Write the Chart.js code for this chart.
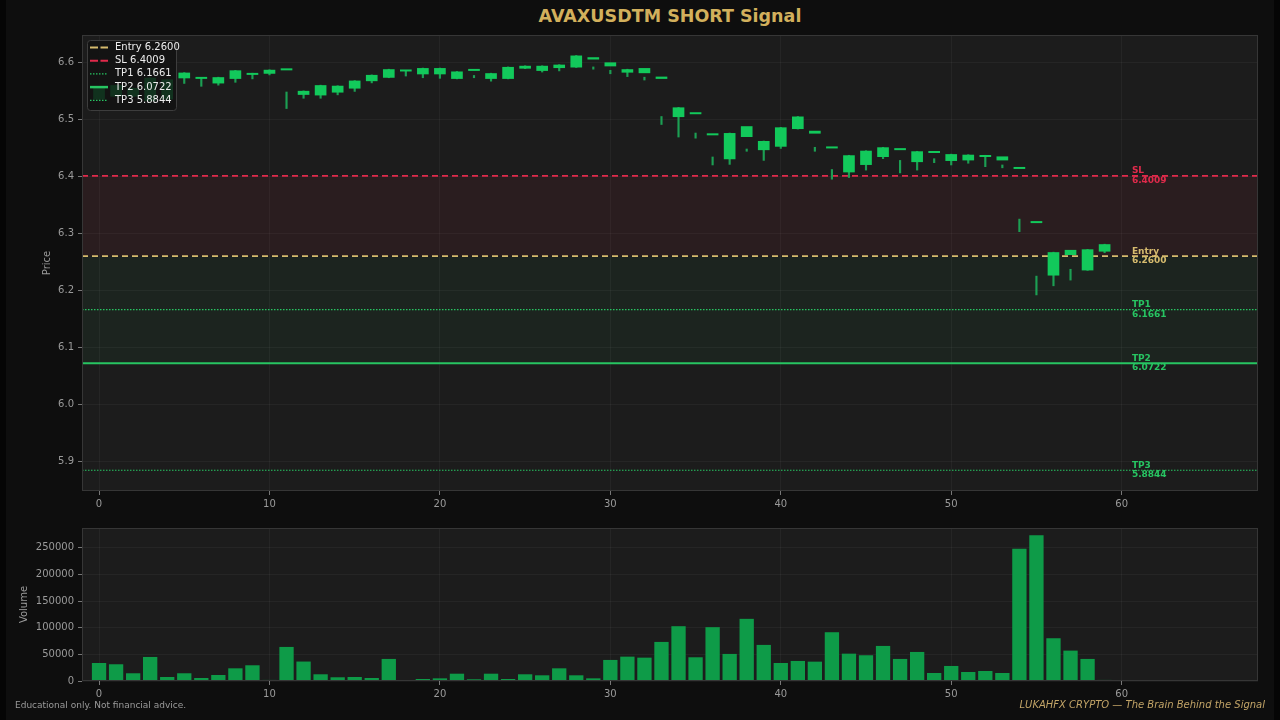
<!DOCTYPE html>
<html>
<head>
<meta charset="utf-8">
<script src="https://cdn.jsdelivr.net/npm/chart.js@4.4.1/dist/chart.umd.min.js"></script>
<style>
html,body{margin:0;padding:0;background:#0e0e0e;width:1280px;height:720px;overflow:hidden;font-family:'DejaVu Sans',sans-serif}
#wrap{position:relative;width:1280px;height:720px}
.strip{position:absolute;top:0;width:6px;height:720px;background:#050505}
#title{position:absolute;left:82px;width:1176px;top:6px;line-height:20px;text-align:center;font-weight:bold;font-size:17.5px;color:#d2b05c}
#c1{position:absolute;left:0;top:0}
#c2{position:absolute;left:0;top:512px}
#footL{position:absolute;left:15px;top:700px;line-height:11px;font-size:9px;color:#9a9a9a}
#footR{position:absolute;right:15px;top:699px;line-height:12px;font-size:10px;font-style:italic;color:#c2a467}
</style>
</head>
<body>
<div id="wrap">
  <div class="strip" style="left:0"></div>
  <div class="strip" style="right:0"></div>
  <div id="title">AVAXUSDTM SHORT Signal</div>
  <canvas id="c1" width="1280" height="512"></canvas>
  <canvas id="c2" width="1280" height="208"></canvas>
  <div id="footL">Educational only. Not financial advice.</div>
  <div id="footR">LUKAHFX CRYPTO — The Brain Behind the Signal</div>
</div>
<script>
// ---------- data ----------
const opens = [6.535,6.540,6.540,6.532,6.535,6.572,6.571,6.563,6.571,6.578,
  6.580,6.586,6.543,6.542,6.547,6.554,6.567,6.573,6.584,6.579,
  6.579,6.571,6.585,6.571,6.571,6.589,6.585,6.590,6.591,6.605,
  6.593,6.582,6.581,6.571,6.504,6.509,6.472,6.430,6.469,6.446,
  6.452,6.483,6.475,6.449,6.407,6.420,6.434,6.446,6.425,6.441,
  6.427,6.428,6.434,6.428,6.413,6.318,6.226,6.262,6.235,6.268];
const closes = [6.558,6.560,6.555,6.573,6.570,6.582,6.573,6.574,6.586,6.581,
  6.587,6.588,6.550,6.560,6.559,6.568,6.578,6.588,6.586,6.590,
  6.590,6.584,6.587,6.581,6.592,6.594,6.594,6.596,6.612,6.609,
  6.600,6.588,6.590,6.575,6.521,6.512,6.475,6.476,6.488,6.462,
  6.486,6.505,6.480,6.451,6.437,6.445,6.451,6.448,6.444,6.443,
  6.439,6.438,6.437,6.435,6.416,6.321,6.267,6.271,6.272,6.281];
const lows = [6.535,6.540,6.540,6.532,6.535,6.563,6.558,6.560,6.565,6.571,
  6.578,6.519,6.537,6.537,6.543,6.549,6.564,6.573,6.576,6.573,
  6.572,6.571,6.573,6.567,6.571,6.589,6.583,6.585,6.591,6.588,
  6.580,6.575,6.569,6.491,6.469,6.467,6.420,6.421,6.444,6.428,
  6.449,6.483,6.444,6.395,6.398,6.411,6.431,6.406,6.411,6.424,
  6.420,6.423,6.417,6.415,6.303,6.192,6.208,6.218,6.235,6.266];
const highs = [6.558,6.560,6.555,6.573,6.570,6.582,6.573,6.574,6.586,6.581,
  6.587,6.548,6.550,6.560,6.559,6.568,6.578,6.588,6.586,6.590,
  6.590,6.584,6.577,6.581,6.592,6.594,6.594,6.596,6.612,6.592,
  6.586,6.588,6.574,6.505,6.521,6.476,6.434,6.476,6.448,6.462,
  6.486,6.505,6.451,6.412,6.437,6.445,6.451,6.428,6.444,6.431,
  6.439,6.438,6.437,6.420,6.325,6.225,6.267,6.237,6.272,6.281];
const volumes = [33800,31400,14500,45100,7500,14500,5600,11300,23800,29500,
  2000,63900,36500,12600,7000,7500,5600,41400,1500,3800,
  5000,13700,3200,13700,3800,12600,10700,23800,10700,5000,
  39500,45700,43800,73300,102800,44500,101000,50800,116600,67700,
  33800,37600,36300,91500,51300,48300,65800,41400,54500,15000,
  28200,16900,18800,15000,248200,273200,80200,57000,41400,2000];
const barIndex = opens.map((_, i) => i);

const levelNames  = ['Entry', 'SL', 'TP1', 'TP2', 'TP3'];
const levelValues = [6.2600, 6.4009, 6.1661, 6.0722, 5.8844];

const xTicks = [0, 10, 20, 30, 40, 50, 60];
const priceTicks = [5.9, 6.0, 6.1, 6.2, 6.3, 6.4, 6.5, 6.6];
const volumeTicks = [0, 50000, 100000, 150000, 200000, 250000];

const X_MIN = -1, X_MAX = 68;
const PRICE_MIN = 5.848, PRICE_MAX = 6.648;
const VOL_MAX = 287000;
const LABEL_X = 60.6;

// ---------- styles ----------
const levelStyles = [
  {color:'#d6bb6e', width:1.6, dash:[6,4], lwidth:2, ldash:[8,2.5]},
  {color:'#e02a4b', width:1.6, dash:[6,4], lwidth:2, ldash:[8,2.5]},
  {color:'#27c562', width:1.2, dash:[1.5,1.5], lwidth:1.2, ldash:[1.5,1.5]},
  {color:'#27c562', width:2,   dash:[],     lwidth:2.5, ldash:[]},
  {color:'#27c562', width:1.2, dash:[1.5,1.5], lwidth:1.2, ldash:[1.5,1.5]}
];

Chart.defaults.font.family = "'DejaVu Sans', sans-serif";
Chart.defaults.font.size = 10;
Chart.defaults.color = '#9a9a9a';

const PANEL_BG = '#1c1c1c';
const GRID = 'rgba(255,255,255,0.045)';

const panelPlugin = {
  id: 'panel',
  beforeDraw(chart) {
    const a = chart.chartArea, ctx = chart.ctx;
    ctx.save();
    ctx.fillStyle = PANEL_BG;
    ctx.fillRect(a.left, a.top, a.right - a.left, a.bottom - a.top);
    ctx.restore();
  },
  afterDraw(chart) {
    const a = chart.chartArea, ctx = chart.ctx;
    ctx.save();
    ctx.strokeStyle = '#363636';
    ctx.lineWidth = 1;
    ctx.strokeRect(a.left + 0.5, a.top + 0.5, a.right - a.left - 1, a.bottom - a.top - 1);
    ctx.restore();
  }
};

const levelLabelPlugin = {
  id: 'levelLabels',
  afterDatasetsDraw(chart) {
    const ctx = chart.ctx, xs = chart.scales.x, ys = chart.scales.y;
    ctx.save();
    ctx.font = "bold 9px 'DejaVu Sans'";
    ctx.textAlign = 'left';
    ctx.textBaseline = 'middle';
    levelNames.forEach((name, i) => {
      const x = xs.getPixelForValue(LABEL_X);
      const y = ys.getPixelForValue(levelValues[i]);
      ctx.fillStyle = levelStyles[i].color;
      ctx.fillText(name, x, y - 5);
      ctx.fillText(levelValues[i].toFixed(4), x, y + 4.5);
    });
    ctx.restore();
  }
};

const legendPlugin = {
  id: 'legendBox',
  afterDraw(chart) {
    const ctx = chart.ctx, a = chart.chartArea;
    const x0 = a.left + 5, y0 = a.top + 5, w = 89, h = 70;
    ctx.save();
    ctx.beginPath();
    if (ctx.roundRect) ctx.roundRect(x0 + 0.5, y0 + 0.5, w, h, 3); else ctx.rect(x0 + 0.5, y0 + 0.5, w, h);
    ctx.fillStyle = 'rgba(17,17,17,0.82)';
    ctx.fill();
    ctx.strokeStyle = '#3d3d3d';
    ctx.lineWidth = 1;
    ctx.stroke();
    ctx.font = "10px 'DejaVu Sans'";
    ctx.textBaseline = 'middle';
    ctx.textAlign = 'left';
    levelNames.forEach((name, i) => {
      const cy = y0 + 7.5 + i * 13.2;
      const st = levelStyles[i];
      ctx.beginPath();
      ctx.setLineDash(st.ldash);
      ctx.strokeStyle = st.color;
      ctx.lineWidth = st.lwidth;
      ctx.moveTo(x0 + 3, cy);
      ctx.lineTo(x0 + 21, cy);
      ctx.stroke();
      ctx.setLineDash([]);
      ctx.fillStyle = '#ececec';
      ctx.fillText(name + ' ' + levelValues[i].toFixed(4), x0 + 28, cy);
    });
    ctx.restore();
  }
};

function levelDataset(i) {
  const st = levelStyles[i];
  return {
    type: 'line',
    label: levelNames[i],
    data: [{x: X_MIN, y: levelValues[i]}, {x: X_MAX, y: levelValues[i]}],
    borderColor: st.color,
    borderWidth: st.width,
    borderDash: st.dash,
    pointRadius: 0,
    fill: false,
    order: 3
  };
}

const entryDs = levelDataset(0);
const slDs = levelDataset(1);
const tp1Ds = levelDataset(2);
const tp2Ds = levelDataset(3);
const tp3Ds = levelDataset(4);
// zones: SL -> Entry (red), Entry -> TP2 (green)
slDs.fill = {target: 2, above: 'rgba(224,42,75,0.07)', below: 'rgba(224,42,75,0.07)'};
entryDs.fill = {target: 5, above: 'rgba(39,197,98,0.05)', below: 'rgba(39,197,98,0.05)'};

const xScaleCommon = {
  type: 'linear', min: X_MIN, max: X_MAX, offset: false,
  afterBuildTicks: s => { s.ticks = xTicks.map(v => ({value: v})); },
  grid: {color: GRID, tickColor: '#777', tickLength: 4, offset: false, drawTicks: true},
  border: {display: false},
  ticks: {color: '#9a9a9a', padding: 3, maxRotation: 0, autoSkip: false, callback: v => String(v)}
};

new Chart(document.getElementById('c1'), {
  type: 'bar',
  data: {
    datasets: [
      {
        label: 'body',
        data: barIndex.map(i => ({x: i, y: [opens[i], closes[i]]})),
        backgroundColor: '#12c95b',
        borderWidth: 0,
        barPercentage: 0.685,
        categoryPercentage: 1,
        minBarLength: 2,
        grouped: false,
        order: 1
      },
      {
        label: 'wick',
        data: barIndex.map(i => ({x: i, y: [lows[i], highs[i]]})),
        backgroundColor: '#1c9f53',
        borderWidth: 0,
        barThickness: 1.5,
        grouped: false,
        order: 2
      },
      entryDs, slDs, tp1Ds, tp2Ds, tp3Ds
    ]
  },
  options: {
    responsive: false,
    animation: false,
    events: [],
    layout: {padding: {left: 0, right: 22, top: 35, bottom: 0}},
    plugins: {
      legend: {display: false},
      tooltip: {enabled: false},
      filler: {drawTime: 'beforeDatasetsDraw'}
    },
    scales: {
      x: Object.assign({}, xScaleCommon, {afterFit: s => { s.height = 21; }}),
      y: {
        type: 'linear', min: PRICE_MIN, max: PRICE_MAX, beginAtZero: false,
        afterBuildTicks: s => { s.ticks = priceTicks.map(v => ({value: v})); },
        afterFit: s => { s.width = 82; },
        grid: {color: GRID, tickColor: '#777', tickLength: 4, drawTicks: true},
        border: {display: false},
        ticks: {color: '#9a9a9a', padding: 4, callback: v => Number(v).toFixed(1)},
        title: {display: true, text: 'Price', color: '#9a9a9a', font: {size: 10}, padding: {top: 41, bottom: 0}}
      }
    }
  },
  plugins: [panelPlugin, levelLabelPlugin, legendPlugin]
});

new Chart(document.getElementById('c2'), {
  type: 'bar',
  data: {
    datasets: [{
      label: 'Volume',
      data: barIndex.map(i => ({x: i, y: volumes[i]})),
      backgroundColor: '#0e9b48',
      borderWidth: 0,
      barPercentage: 0.84,
      categoryPercentage: 1,
      grouped: false
    }]
  },
  options: {
    responsive: false,
    animation: false,
    events: [],
    layout: {padding: {left: 0, right: 22, top: 16, bottom: 0}},
    plugins: {legend: {display: false}, tooltip: {enabled: false}},
    scales: {
      x: Object.assign({}, xScaleCommon, {afterFit: s => { s.height = 39; }}),
      y: {
        type: 'linear', min: 0, max: VOL_MAX,
        afterBuildTicks: s => { s.ticks = volumeTicks.map(v => ({value: v})); },
        afterFit: s => { s.width = 82; },
        grid: {color: GRID, tickColor: '#777', tickLength: 4, drawTicks: true},
        border: {display: false},
        ticks: {color: '#9a9a9a', padding: 4, callback: v => String(v)},
        title: {display: true, text: 'Volume', color: '#9a9a9a', font: {size: 10}, padding: {top: 18, bottom: 0}}
      }
    }
  },
  plugins: [panelPlugin]
});
</script>
</body>
</html>
